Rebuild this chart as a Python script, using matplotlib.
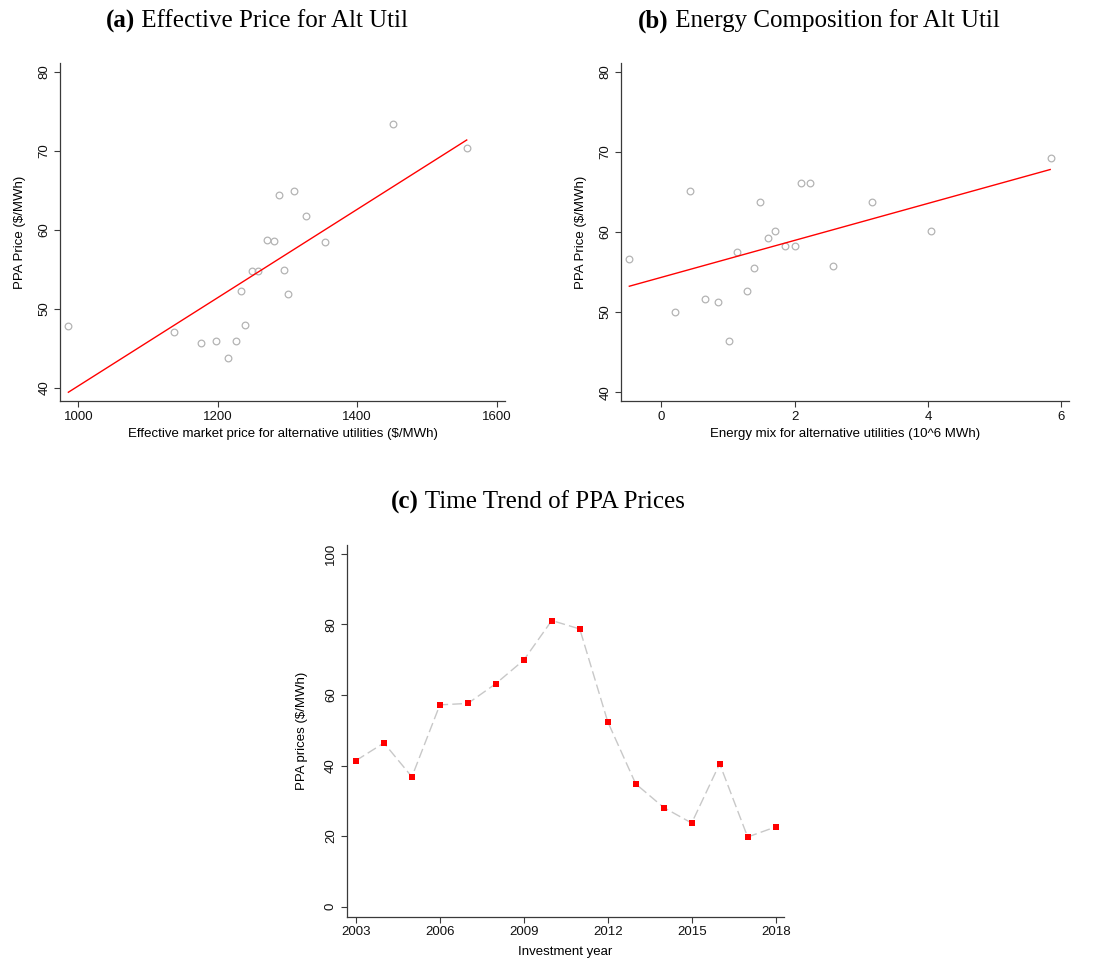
import numpy as np
import matplotlib
matplotlib.use("Agg")
import matplotlib.pyplot as plt

plt.rcParams['font.family'] = ['Liberation Sans', 'DejaVu Sans']

# ---- data ----
a_price = [985.7, 1136.7, 1175.9, 1197.0, 1214.7, 1226.6, 1233.8, 1239.0, 1249.6, 1257.7,
           1270.1, 1280.6, 1288.3, 1295.0, 1300.2, 1309.8, 1327.0, 1354.3, 1451.3, 1557.0]
a_ppa = [47.85, 47.0, 45.6, 45.95, 43.75, 45.9, 52.24, 47.93, 54.8, 54.8,
         58.7, 58.57, 64.39, 54.9, 51.9, 64.9, 61.73, 58.4, 73.38, 70.34]
a_fit_x = [985.7, 1557.0]
a_fit_y = [39.41, 71.35]

b_mix = [-0.48, 0.205, 0.435, 0.655, 0.855, 1.02, 1.14, 1.286, 1.386, 1.486,
         1.606, 1.706, 1.856, 2.0, 2.09, 2.226, 2.58, 3.167, 4.052, 5.843]
b_ppa = [56.69, 49.95, 65.09, 51.61, 51.28, 46.41, 57.52, 52.61, 55.56, 63.72,
         59.31, 60.14, 58.27, 58.31, 66.13, 66.18, 55.73, 63.72, 60.18, 69.3]
b_fit_x = [-0.48, 5.833]
b_fit_y = [53.23, 67.8]

years = list(range(2003, 2019))
c_ppa = [41.4, 46.4, 36.8, 57.2, 57.6, 63.2, 69.9, 81.1, 78.7, 52.4,
         34.8, 28.1, 23.7, 40.5, 19.75, 22.6]

a_xticks = [1000, 1200, 1400, 1600]
b_xticks = [0, 2, 4, 6]
ab_yticks = [40, 50, 60, 70, 80]
c_xticks = [2003, 2006, 2009, 2012, 2015, 2018]
c_yticks = [0, 20, 40, 60, 80, 100]

titles = [("(a)", " Effective Price for Alt Util"),
          ("(b)", " Energy Composition for Alt Util"),
          ("(c)", " Time Trend of PPA Prices")]

W, H = 1106, 960
fig = plt.figure(figsize=(W / 100, H / 100), dpi=100)
FS = 9.5


def ax_px(l, t, r, b):
    return fig.add_axes([l / W, 1 - b / H, (r - l) / W, (b - t) / H])


def style(ax):
    for s in ['top', 'right']:
        ax.spines[s].set_visible(False)
    for s in ['left', 'bottom']:
        ax.spines[s].set_color('#3a3a3a')
        ax.spines[s].set_linewidth(0.9)
    ax.tick_params(direction='out', length=4, width=0.8, colors='#3a3a3a',
                   labelcolor='#111111', labelsize=FS, pad=3)
    for lab in ax.get_yticklabels():
        lab.set_rotation(90)
        lab.set_va('center')


axA = ax_px(60, 63, 505, 401)
axA.plot(a_price, a_ppa, 'o', mfc='none', mec='#b4b4b4', mew=0.9, ms=4.8, zorder=2)
axA.plot(a_fit_x, a_fit_y, color='#ff0000', lw=1.0, zorder=3)
axA.set_xlim(973.7, 1611.9)
axA.set_ylim(38.3, 81.1)
axA.set_xticks(a_xticks)
axA.set_yticks(ab_yticks)
axA.set_xlabel("Effective market price for alternative utilities ($/MWh)", fontsize=FS)
axA.set_ylabel("PPA Price ($/MWh)", fontsize=FS)
style(axA)

axB = ax_px(621, 63, 1069.3, 401)
axB.plot(b_mix, b_ppa, 'o', mfc='none', mec='#b4b4b4', mew=0.9, ms=4.8, zorder=2)
axB.plot(b_fit_x, b_fit_y, color='#ff0000', lw=1.0, zorder=3)
axB.set_xlim(-0.605, 6.12)
axB.set_ylim(38.9, 81.1)
axB.set_xticks(b_xticks)
axB.set_yticks(ab_yticks)
axB.set_xlabel("Energy mix for alternative utilities (10^6 MWh)", fontsize=FS)
axB.set_ylabel("PPA Price ($/MWh)", fontsize=FS)
style(axB)

axC = ax_px(346.7, 545, 784.3, 916.7)
axC.plot(years, c_ppa, color='#c8c8c8', lw=1.0, dashes=(7, 3), zorder=2)
axC.plot(years, c_ppa, 's', color='#ff0000', ms=4.6, mew=0, zorder=3)
axC.set_xlim(2002.67, 2018.31)
axC.set_ylim(-2.84, 102.5)
axC.set_xticks(c_xticks)
axC.set_yticks(c_yticks)
axC.set_xlabel("Investment year", fontsize=FS)
axC.set_ylabel("PPA prices ($/MWh)", fontsize=FS)
style(axC)

for ax in (axA, axB):
    ax.yaxis.set_label_coords(-0.076, 0.5)
    ax.xaxis.set_label_coords(0.5, -0.079)
axC.yaxis.set_label_coords(-0.088, 0.5)
axC.xaxis.set_label_coords(0.5, -0.079)

# titles with bold prefix
renderer = fig.canvas.get_renderer()
title_pos = [(257, 21), (819, 21), (537.7, 502)]
for (bold, rest), (cx, cy) in zip(titles, title_pos):
    t1 = fig.text(0, 1 - cy / H, bold, fontsize=18, fontweight='bold',
                  family='Liberation Serif', va='center', ha='left')
    t2 = fig.text(0, 1 - cy / H, rest, fontsize=18,
                  family='Liberation Serif', va='center', ha='left')
    w1 = t1.get_window_extent(renderer).width
    w2 = t2.get_window_extent(renderer).width
    x0 = cx - (w1 + w2) / 2
    t1.set_x(x0 / W)
    t2.set_x((x0 + w1) / W)

fig.savefig("out.png", dpi=100)
